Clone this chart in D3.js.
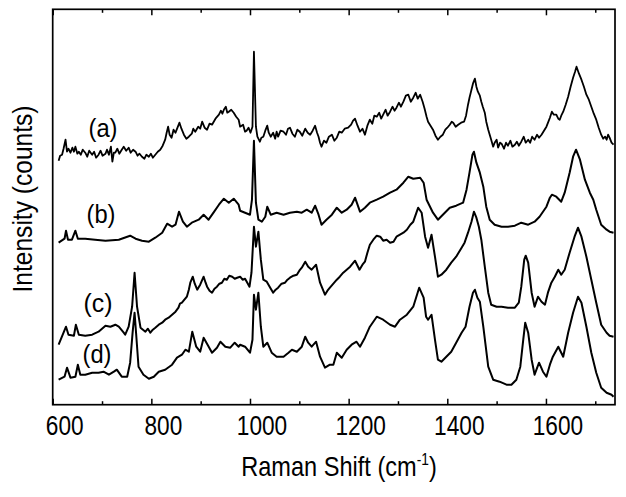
<!DOCTYPE html>
<html><head><meta charset="utf-8">
<script src="https://cdn.jsdelivr.net/npm/d3@7"></script>
<style>html,body{margin:0;padding:0;background:#fff;} svg{display:block;}</style>
</head><body><svg id="chart" width="626" height="497"></svg>
<script>
// Raman shift (cm-1), intensity (arbitrary counts, offset-stacked as plotted)
const specA = [[612,244],[615,249],[619,250],[622,256],[626,265],[629,253],[632,256],[636,252],[640,257],[643,253],[646,258],[650,251],[653,253],[657,250],[661,255],[666,252],[670,248],[674,254],[680,250],[684,253],[688,247],[693,250],[697,254],[701,249],[707,251],[710,255],[714,250],[718,258],[721,243],[724,252],[727,252],[731,256],[735,251],[740,255],[744,258],[749,254],[754,257],[758,252],[763,255],[768,253],[772,249],[776,251],[781,248],[786,246],[790,250],[795,248],[799,251],[803,247],[808,250],[813,253],[818,255],[823,259],[828,265],[831,272],[834,278],[837,270],[841,267],[845,275],[849,272],[853,277],[857,282],[861,276],[866,270],[871,266],[876,268],[882,271],[885,276],[889,273],[895,278],[899,276],[903,283],[908,277],[913,275],[918,281],[923,280],[930,286],[937,290],[941,294],[944,291],[947,295],[951,298],[954,292],[957,293],[962,295],[967,292],[972,288],[977,285],
[980,278],[986,280],[990,273],[993,274],[997,277],[1001,272],[1005,278],[1008,353],[1012,278],[1015,268],[1020,263],[1023,267],[1027,268],[1031,274],[1035,279],[1038,272],[1042,268],[1047,272],[1051,266],[1054,273],[1057,268],[1062,274],[1068,273],[1073,270],[1077,276],[1081,277],[1086,271],[1091,268],[1096,275],[1101,273],[1106,269],[1112,276],[1117,272],[1122,270],[1127,274],[1132,279],[1136,272],[1139,268],[1142,262],[1145,258],[1150,264],[1155,262],[1160,268],[1166,270],[1171,264],[1176,267],[1181,273],[1186,272],[1192,276],[1199,277],[1205,280],[1209,284],[1213,286],[1218,279],[1223,273],[1228,276],[1233,270],[1238,279],[1243,285],[1248,281],[1252,289],[1257,288],[1262,292],[1266,286],[1270,290],[1275,295],[1279,289],[1284,293],[1289,298],[1293,294],[1297,297],[1302,302],[1306,298],[1311,303],[1316,309],[1321,310],[1326,303],[1331,307],[1336,312],[1340,306],[1345,310],[1350,303],[1354,296],[1358,288],
[1361,283],[1366,279],[1371,275],[1376,269],[1381,265],[1386,268],[1391,270],[1396,275],[1400,277],[1405,280],[1409,283],[1412,282],[1417,278],[1422,280],[1428,282],[1434,283],[1438,289],[1442,300],[1445,307],[1449,315],[1452,321],[1456,326],[1459,318],[1462,313],[1466,309],[1469,303],[1472,298],[1476,292],[1479,283],[1483,275],[1486,270],[1489,265],[1493,258],[1496,262],[1500,265],[1503,257],[1507,262],[1510,261],[1515,256],[1519,262],[1523,259],[1528,264],[1532,258],[1537,260],[1541,263],[1545,259],[1550,263],[1555,268],[1559,262],[1564,265],[1568,262],[1572,268],[1577,265],[1582,270],[1586,267],[1591,270],[1596,274],[1601,278],[1605,283],[1608,287],[1612,293],[1616,290],[1621,290],[1625,286],[1628,285],[1631,289],[1635,293],[1640,300],[1645,308],[1650,318],[1655,327],[1659,333],[1662,338],[1667,331],[1672,325],[1677,318],[1682,310],[1687,305],[1692,298],[1697,291],[1702,285],[1707,277],[1712,270],[1716,266],[1720,268],[1723,265],[1726,270],[1729,267],[1733,262],[1737,260]];

const specB = [[612,162],[624,166],[627,174],[631,165],[639,165],[646,174],[651,166],[666,166],[686,165],[707,164],[734,165],[757,169],[768,166],[781,164],[795,163],[808,167],[822,172],[832,181],[842,178],[849,180],[856,193],[864,183],[872,178],[882,182],[896,185],[906,190],[916,185],[926,192],[937,200],[947,206],[957,202],[967,206],[977,200],
[980,194],[990,192],[1000,190],[1004,205],[1008,264],[1012,202],[1017,185],[1024,183],[1031,188],[1035,198],[1042,190],[1054,192],[1068,190],[1081,192],[1095,193],[1105,192],[1115,195],[1125,192],[1132,199],[1139,190],[1145,180],[1155,185],[1166,190],[1176,197],[1186,192],[1196,195],[1206,200],[1213,207],[1223,193],[1233,197],[1243,202],[1257,205],[1270,208],[1284,212],[1297,215],[1311,222],[1321,228],[1331,226],[1345,227],[1352,222],[1358,205],
[1361,202],[1371,192],[1381,185],[1391,190],[1405,197],[1418,199],[1432,202],[1439,215],[1445,232],[1451,250],[1454,253],[1459,242],[1466,232],[1473,218],[1479,198],[1486,185],[1496,180],[1510,178],[1523,178],[1537,179],[1550,182],[1564,180],[1577,183],[1587,188],[1594,193],[1601,198],[1608,207],[1612,210],[1621,208],[1631,203],[1638,212],[1648,232],[1655,248],[1661,255],[1669,245],[1679,225],[1689,212],[1696,205],[1702,195],[1712,180],[1723,175],[1729,173],[1737,172]];

const specC = [[612,60],[622,72],[627,78],[632,70],[643,69],[647,80],[653,70],[666,69],[680,70],[693,73],[707,79],[717,78],[727,80],[734,78],[744,72],[747,70],[754,78],[761,98],[766,132],[771,98],[778,77],[783,75],[788,73],[793,76],[798,72],[803,75],[808,77],[815,80],[822,82],[828,85],[835,87],[842,90],[849,93],[855,97],[858,101],[862,102],[867,105],[872,108],[876,115],[879,122],[884,128],[888,121],[893,115],[899,120],[906,128],[910,122],[913,118],[918,114],[923,112],[928,116],[933,118],[938,121],[943,122],[948,126],[953,125],[958,129],[964,128],[969,126],[974,127],
[980,128],[985,125],[990,126],[999,118],[1003,132],[1008,178],[1012,158],[1017,173],[1022,145],[1027,125],[1034,123],[1041,117],[1047,112],[1052,115],[1057,117],[1064,121],[1071,122],[1076,125],[1081,127],[1088,129],[1095,130],[1100,134],[1105,137],[1112,143],[1118,138],[1125,135],[1134,140],[1142,122],[1152,110],[1157,114],[1162,117],[1169,121],[1176,125],[1182,128],[1189,132],[1196,135],[1203,138],[1208,141],[1213,144],[1222,135],[1228,140],[1233,143],[1238,152],[1243,160],[1250,165],[1257,169],[1264,168],[1270,164],[1277,165],[1284,162],[1291,163],[1297,168],[1304,170],[1311,172],[1318,175],[1325,180],[1331,183],[1341,197],[1348,192],[1355,168],
[1361,157],[1368,170],[1375,148],[1381,128],[1388,130],[1398,135],[1408,142],[1418,148],[1429,157],[1435,162],[1442,172],[1449,183],[1454,193],[1459,187],[1464,178],[1469,165],[1476,138],[1483,112],[1489,100],[1500,98],[1510,98],[1523,97],[1537,97],[1545,102],[1550,118],[1556,145],[1559,149],[1564,142],[1571,112],[1577,98],[1584,108],[1591,103],[1598,100],[1604,112],[1611,122],[1618,128],[1625,135],[1631,130],[1638,135],[1648,152],[1658,168],[1665,177],[1672,168],[1682,148],[1692,125],[1702,102],[1712,80],[1723,72],[1729,69],[1737,68]];

const specD = [[612,25],[624,28],[629,37],[636,27],[646,28],[651,40],[656,30],[666,30],[680,32],[693,32],[703,33],[714,30],[724,33],[730,35],[740,28],[751,28],[757,42],[762,72],[766,92],[769,72],[774,38],[784,30],[795,26],[805,28],[815,33],[828,35],[842,40],[852,47],[862,50],[869,55],[876,53],[883,73],[891,58],[899,53],[906,67],[914,60],[923,52],[933,57],[940,63],[950,58],[960,57],[969,62],[977,58],
[980,60],[990,58],[1000,52],[1005,65],[1008,110],[1012,95],[1017,112],[1022,78],[1027,58],[1035,62],[1044,52],[1054,48],[1068,48],[1078,52],[1085,55],[1095,53],[1105,58],[1112,68],[1118,62],[1125,58],[1134,63],[1142,48],[1152,37],[1162,40],[1169,40],[1176,52],[1186,47],[1196,55],[1206,60],[1216,63],[1223,58],[1233,67],[1243,78],[1257,88],[1270,85],[1284,80],[1294,78],[1304,85],[1318,90],[1331,98],[1343,117],[1352,107],[1357,88],
[1361,85],[1368,90],[1375,65],[1381,45],[1388,43],[1398,48],[1408,53],[1418,62],[1429,72],[1437,78],[1445,98],[1452,112],[1456,115],[1461,107],[1466,103],[1473,78],[1483,38],[1493,25],[1506,23],[1520,20],[1530,20],[1540,25],[1548,38],[1554,65],[1558,82],[1564,72],[1571,45],[1577,30],[1586,42],[1594,33],[1601,28],[1608,40],[1614,48],[1625,58],[1635,48],[1645,72],[1655,92],[1665,108],[1672,102],[1682,78],[1692,52],[1702,32],[1712,17],[1723,12],[1733,10],[1737,8]];

const seriesLabels = ["(a)", "(b)", "(c)", "(d)"];
const majorTicks = [600, 800, 1000, 1200, 1400, 1600];
const minorTicks = [700, 900, 1100, 1300, 1500, 1700];
const xTitle = "Raman Shift (cm";
const xTitleSup = "-1";
const yTitle = "Intensity (counts)";

const svg = d3.select("#chart");
const FONT = "'Liberation Sans Narrow','Arial Narrow','Liberation Sans',Arial,sans-serif";
const L = 52.7, R = 615, T = 9.3, B = 404.7;
const x = d3.scaleLinear().domain([600, 1740]).range([L, R]);
const y = d3.scaleLinear().domain([0, 395.4]).range([B, T]);

// curves
const line = d3.line().x(d => x(d[0])).y(d => y(d[1]));
[specA, specB, specC, specD].forEach((s, i) => {
  svg.append("path").datum(s).attr("d", line)
    .attr("fill", "none").attr("stroke", "#000").attr("stroke-width", i === 0 ? 1.8 : 2)
    .attr("stroke-linejoin", "round");
});

// bottom axis: major ticks + labels, minor ticks
const gB = svg.append("g").attr("transform", `translate(0,${B})`);
gB.call(d3.axisBottom(x).tickValues(majorTicks).tickSize(-6).tickPadding(10.7).tickFormat(d3.format("d")));
gB.append("g").call(d3.axisBottom(x).tickValues(minorTicks).tickSize(-3.5).tickFormat(""));
const gT = svg.append("g").attr("transform", `translate(0,${T})`);
gT.call(d3.axisTop(x).tickValues(majorTicks).tickSize(-6).tickFormat(""));
gT.append("g").call(d3.axisTop(x).tickValues(minorTicks).tickSize(-3.5).tickFormat(""));
svg.selectAll(".domain").remove();
svg.selectAll(".tick line").attr("stroke", "#000").attr("stroke-width", 1.5);
gB.selectAll(".tick text").attr("font-family", FONT).attr("font-size", 27.4)
  .attr("fill", "#000").attr("dx", 11.5)
  .attr("textLength", d => String(d).length * 12.6).attr("lengthAdjust", "spacingAndGlyphs");

// frame
svg.append("rect").attr("x", L).attr("y", T).attr("width", R - L).attr("height", B - T)
  .attr("fill", "none").attr("stroke", "#000").attr("stroke-width", 1.7);

// x title (narrowed to match condensed face)
const xg = svg.append("g").attr("transform", "translate(339,476) scale(0.86,1)");
const xt = xg.append("text").attr("x", 0).attr("y", 0).attr("text-anchor", "middle")
  .attr("font-family", FONT).attr("font-size", 27.4).attr("fill", "#000");
xt.append("tspan").text(xTitle);
xt.append("tspan").text(xTitleSup).attr("font-size", 16).attr("dy", -11);
xt.append("tspan").text(")").attr("dy", 11);

// y title
svg.append("text").attr("transform", "translate(32,199) rotate(-90)")
  .attr("text-anchor", "middle").attr("font-family", FONT).attr("font-size", 27.4)
  .attr("fill", "#000").attr("textLength", 187).attr("lengthAdjust", "spacingAndGlyphs")
  .text(yTitle);

// series labels, placed just left of each trace's start
const labelPos = [[103, 137], [101, 223], [98, 312], [97, 363]];
seriesLabels.forEach((t, i) => {
  svg.append("text").attr("x", labelPos[i][0]).attr("y", labelPos[i][1])
    .attr("text-anchor", "middle")
    .attr("font-family", FONT).attr("font-size", 26).attr("fill", "#000")
    .attr("textLength", 29).attr("lengthAdjust", "spacingAndGlyphs").text(t);
});
</script></body></html>
